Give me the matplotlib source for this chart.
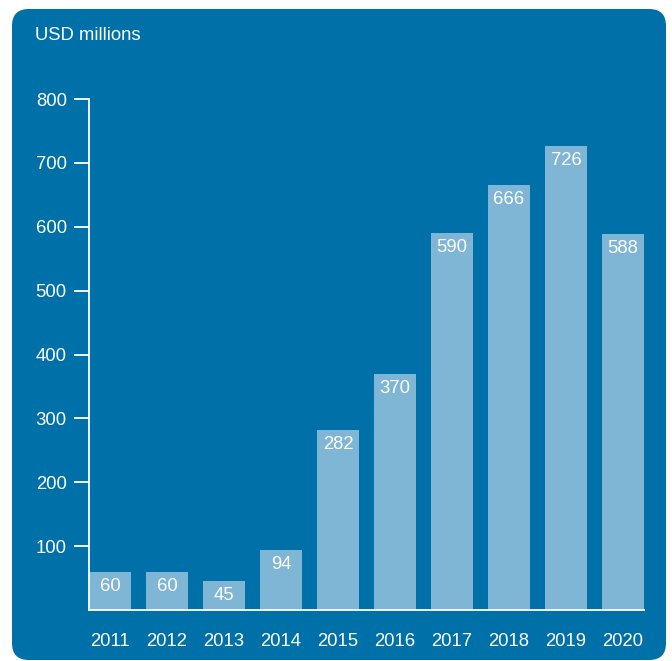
import matplotlib
matplotlib.use("Agg")
import matplotlib.pyplot as plt
from matplotlib.patches import FancyBboxPatch

years = ["2011", "2012", "2013", "2014", "2015", "2016", "2017", "2018", "2019", "2020"]
values = [60, 60, 45, 94, 282, 370, 590, 666, 726, 588]
yticks = [100, 200, 300, 400, 500, 600, 700, 800]
unit_label = "USD millions"

BG = "#0070A9"
BAR = "#7FB5D5"
W, H = 672, 661
FS = 13.3
plt.rcParams['font.family'] = ['Liberation Sans', 'DejaVu Sans']

fig = plt.figure(figsize=(W / 100, H / 100), dpi=100)
fig.patch.set_facecolor("white")

# rounded blue panel
box = FancyBboxPatch((12 / W, 1 / H), (666 - 12) / W, (652 - 1) / H,
                     boxstyle="round,pad=0,rounding_size=0.025",
                     transform=fig.transFigure, facecolor=BG, edgecolor="none",
                     mutation_aspect=W / H, zorder=-5)
fig.patches.append(box)

ax = fig.add_axes([89 / W, (H - 610) / H, (644 - 89) / W, (610 - 99) / H])
ax.set_zorder(1)
ax.set_facecolor("none")
x = list(range(len(years)))
bw = 42 / 57
ax.bar(x, values, width=bw, color=BAR, zorder=2)
ax.set_xlim(-bw / 2, len(years) - 1 + bw / 2)
ax.set_ylim(0, 800)

for s in ["top", "right"]:
    ax.spines[s].set_visible(False)
for s in ["left", "bottom"]:
    ax.spines[s].set_color("white")
    ax.spines[s].set_linewidth(1.3)
    ax.spines[s].set_zorder(3)

ax.set_yticks(yticks)
ax.set_yticklabels([str(t) for t in yticks])
ax.tick_params(axis="y", colors="white", length=11, width=1.3, pad=5, labelsize=FS)
ax.set_xticks(x)
ax.set_xticklabels(years)
ax.tick_params(axis="x", colors="white", length=0, pad=16.5, labelsize=FS)

for xi, v in zip(x, values):
    ax.annotate(str(v), (xi, v), xytext=(0, -10.5), textcoords="offset points",
                ha="center", va="center", color="white", fontsize=FS, zorder=4)

fig.text(35 / W, 1 - 36 / H, unit_label, color="white", fontsize=FS,
         ha="left", va="center", zorder=5)

fig.savefig("out.png", dpi=100, facecolor="white")
